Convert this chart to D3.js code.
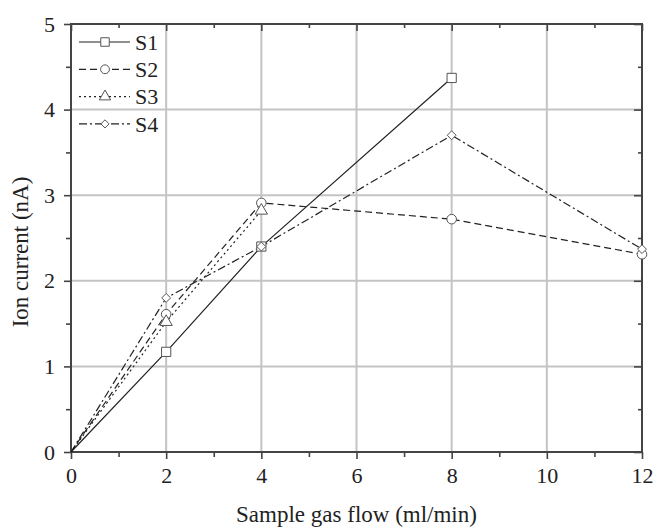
<!DOCTYPE html>
<html>
<head>
<meta charset="utf-8">
<script src="https://cdn.jsdelivr.net/npm/d3@7"></script>
<style>
  body { margin: 0; background: #fff; }
  svg text { font-family: "Liberation Serif", "Times New Roman", serif; fill: #222; }
</style>
</head>
<body>
<svg id="chart" width="654" height="529"></svg>
<script>
// values
var flow = [0, 2, 4, 8, 12];
var s1 = [0, 1.17, 2.4, 4.37];
var s2 = [0, 1.61, 2.91, 2.72, 2.31];
var s3 = [0, 1.52, 2.82];
var s4 = [0, 1.80, 2.40, 3.70, 2.37];
var seriesNames = ["S1", "S2", "S3", "S4"];
var xTicks = [0, 2, 4, 6, 8, 10, 12];
var yTicks = [0, 1, 2, 3, 4, 5];

var margin = { top: 24, right: 12, bottom: 77, left: 71 };
var width = 654, height = 529;

var x = d3.scaleLinear().domain([0, 12]).range([margin.left, width - margin.right]);
var y = d3.scaleLinear().domain([0, 5]).range([height - margin.bottom, margin.top]);

var svg = d3.select("#chart");

var diamond = d3.symbolDiamond2 || d3.symbolDiamond;
var series = [
  { name: seriesNames[0], values: s1, dash: null, symbol: d3.symbolSquare, size: 85 },
  { name: seriesNames[1], values: s2, dash: "7,4", symbol: d3.symbolCircle, size: 72 },
  { name: seriesNames[2], values: s3, dash: "2,3", symbol: d3.symbolTriangle, size: 65 },
  { name: seriesNames[3], values: s4, dash: "8,3,2,3", symbol: diamond, size: 50 }
];

// grid
var grid = svg.append("g").attr("stroke", "#c4c4c4").attr("stroke-width", 2);
grid.selectAll(".gx").data(xTicks.slice(1, -1)).join("line")
  .attr("x1", d => x(d)).attr("x2", d => x(d))
  .attr("y1", y(0)).attr("y2", y(5));
grid.selectAll(".gy").data(yTicks.slice(1, -1)).join("line")
  .attr("y1", d => y(d)).attr("y2", d => y(d))
  .attr("x1", x(0)).attr("x2", x(12));

// axes (Origin style: outward left/bottom, inward mirrors)
var axColor = "#444";
function styleAxis(g) {
  g.select(".domain").remove();
  g.selectAll(".tick line").attr("stroke", axColor).attr("stroke-width", 1.6);
}
var xMinor = d3.range(1, 12, 2);
var yMinor = d3.range(0.5, 5, 1);

svg.append("g").attr("transform", `translate(0,${y(0)})`)
  .call(d3.axisBottom(x).tickValues(xTicks).tickSize(7).tickPadding(8).tickFormat(d3.format("d")))
  .call(styleAxis)
  .call(g => g.selectAll("text").attr("font-size", 22).attr("font-family", "Liberation Serif"));
svg.append("g").attr("transform", `translate(0,${y(0)})`)
  .call(d3.axisBottom(x).tickValues(xMinor).tickSize(5).tickFormat(""))
  .call(styleAxis);

svg.append("g").attr("transform", `translate(${x(0)},0)`)
  .call(d3.axisLeft(y).tickValues(yTicks).tickSize(7).tickPadding(9).tickFormat(d3.format("d")))
  .call(styleAxis)
  .call(g => g.selectAll("text").attr("font-size", 22).attr("font-family", "Liberation Serif"));
svg.append("g").attr("transform", `translate(${x(0)},0)`)
  .call(d3.axisLeft(y).tickValues(yMinor).tickSize(5).tickFormat(""))
  .call(styleAxis);

svg.append("g").attr("transform", `translate(0,${y(5)})`)
  .call(d3.axisBottom(x).tickValues(xTicks).tickSize(7).tickFormat(""))
  .call(styleAxis);
svg.append("g").attr("transform", `translate(0,${y(5)})`)
  .call(d3.axisBottom(x).tickValues(xMinor).tickSize(4).tickFormat(""))
  .call(styleAxis);
svg.append("g").attr("transform", `translate(${x(12)},0)`)
  .call(d3.axisLeft(y).tickValues(yTicks).tickSize(8).tickFormat(""))
  .call(styleAxis);
svg.append("g").attr("transform", `translate(${x(12)},0)`)
  .call(d3.axisLeft(y).tickValues(yMinor).tickSize(4).tickFormat(""))
  .call(styleAxis);

// frame
svg.append("rect")
  .attr("x", x(0)).attr("y", y(5))
  .attr("width", x(12) - x(0)).attr("height", y(0) - y(5))
  .attr("fill", "none").attr("stroke", axColor).attr("stroke-width", 2);

// lines
var line = d3.line().x((d, i) => x(flow[i])).y(d => y(d));
svg.append("g").selectAll("path").data(series).join("path")
  .attr("d", d => line(d.values))
  .attr("fill", "none")
  .attr("stroke", "#222")
  .attr("stroke-width", 1.2)
  .attr("stroke-dasharray", d => d.dash);

// markers (skip the origin point, which sits on the axis)
series.forEach(function (s) {
  svg.append("g").selectAll("path")
    .data(s.values.map((v, i) => [flow[i], v]).filter(p => p[0] > 0))
    .join("path")
    .attr("transform", p => `translate(${x(p[0])},${y(p[1])})`)
    .attr("d", d3.symbol().type(s.symbol).size(s.size))
    .attr("fill", "#fff")
    .attr("stroke", "#555")
    .attr("stroke-width", 1);
});

// legend
var legend = svg.append("g").attr("transform", "translate(79,42)");
var item = legend.selectAll("g").data(series).join("g")
  .attr("transform", (d, i) => `translate(0,${i * 27.3})`);
item.append("line")
  .attr("x1", 0).attr("x2", 51).attr("y1", 0).attr("y2", 0)
  .attr("stroke", "#222").attr("stroke-width", 1.2)
  .attr("stroke-dasharray", d => d.dash);
item.append("path")
  .attr("transform", "translate(26,0)")
  .attr("d", d => d3.symbol().type(d.symbol).size(d.size * 0.85)())
  .attr("fill", "#fff").attr("stroke", "#555");
item.append("text")
  .attr("x", 56).attr("y", 0).attr("dy", "0.35em")
  .attr("font-size", 22)
  .text(d => d.name);

// axis titles
svg.append("text")
  .attr("x", (x(0) + x(12)) / 2).attr("y", 522)
  .attr("text-anchor", "middle").attr("font-size", 23)
  .text("Sample gas flow (ml/min)");
svg.append("text")
  .attr("transform", "translate(28,252) rotate(-90)")
  .attr("text-anchor", "middle").attr("font-size", 23)
  .text("Ion current (nA)");
</script>
</body>
</html>
